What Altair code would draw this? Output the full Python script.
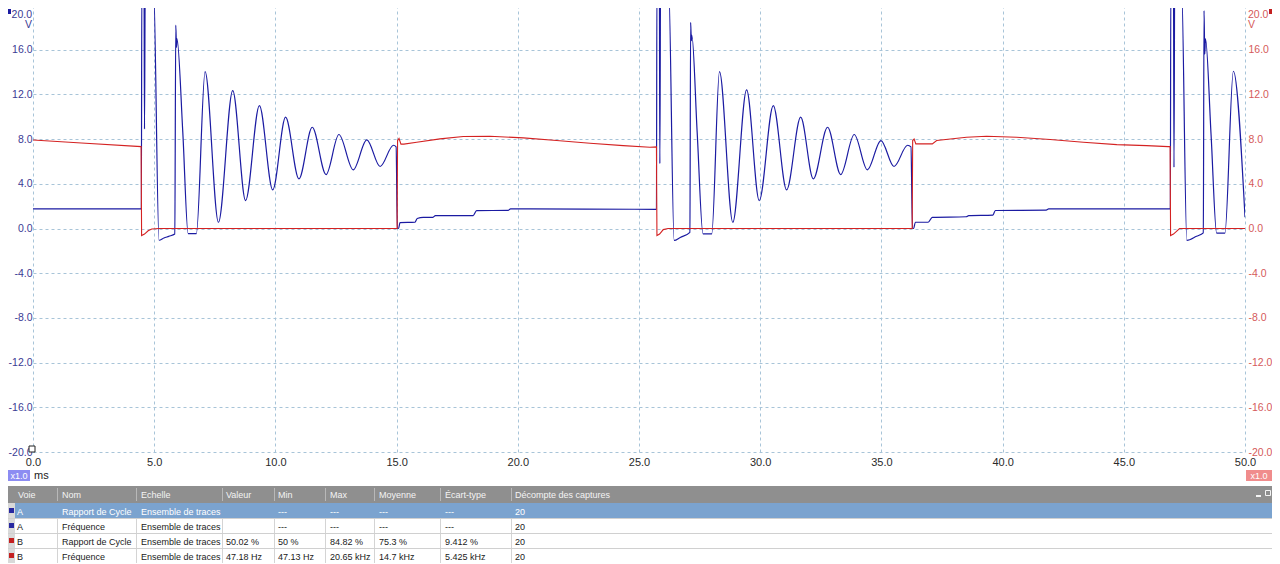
import altair as alt
import pandas as pd

# ---------------- data ----------------
# Channel A (blue), time in ms, voltage in V (values above 20 V are off-scale)
blue_t = [0.0, 4.47,
          4.49, 4.58, 4.60, 4.63, 4.97, 5.20, 5.40, 5.60, 5.85, 5.89, 5.92, 5.94, 6.18, 6.40, 6.74,
          7.10, 7.65, 8.24, 8.77, 9.34, 9.89, 10.42, 10.97, 11.52, 12.09, 12.62, 13.21, 13.77, 14.32, 14.87, 14.98,
          15.03, 15.08, 15.14, 15.76, 15.85, 16.10, 16.50, 16.60, 18.16, 18.30, 19.60, 19.70, 25.72,
          25.74, 25.84, 25.86, 25.89, 26.22, 26.45, 26.70, 27.10, 27.13, 27.16, 27.18, 27.40, 27.64, 28.00,
          28.32, 28.87, 29.44, 29.96, 30.54, 31.09, 31.67, 32.19, 32.78, 33.32, 33.88, 34.42, 34.98, 35.52, 36.08, 36.22,
          36.28, 36.33, 36.40, 36.93, 37.10, 38.50, 38.60, 39.60, 39.70, 41.80, 41.90, 46.92,
          46.94, 47.05, 47.07, 47.10, 47.38, 47.60, 48.00, 48.28, 48.31, 48.34, 48.37, 48.60, 48.83, 49.17, 49.52, 50.0]
blue_v = [1.76, 1.76,
          22.0, 22.0, 8.9, 22.0, 22.0, -1.05, -0.85, -0.70, -0.50, 18.2, 16.2, 17.0, 8.6, -0.45, -0.45,
          14.04, 0.56, 12.34, 2.50, 11.0, 3.46, 9.96, 4.44, 9.06, 4.83, 8.41, 5.25, 7.93, 5.55, 7.45, 7.30,
          0.0, 0.0, 0.52, 0.56, 0.90, 1.00, 1.00, 1.16, 1.16, 1.60, 1.62, 1.76, 1.72,
          22.0, 22.0, 5.8, 22.0, 22.0, -1.07, -0.80, -0.35, 18.45, 16.8, 17.3, 8.6, -0.48, -0.48,
          14.04, 0.56, 12.4, 2.50, 11.0, 3.46, 9.96, 4.44, 9.06, 4.83, 8.41, 5.25, 7.87, 5.55, 7.45, 7.30,
          0.0, 0.0, 0.56, 0.56, 1.00, 1.05, 1.16, 1.20, 1.61, 1.65, 1.76, 1.76,
          22.0, 22.0, 5.48, 22.0, 22.0, -1.07, -0.70, -0.39, 19.5, 15.6, 17.0, 8.4, -0.42, -0.42, 14.07, 1.01]

# Channel B (red)
red_t = [0.0, 2.0, 4.46, 4.48, 4.60, 4.75, 4.90, 5.20,
         15.02, 15.04, 15.10, 15.18, 15.30, 15.83, 16.79, 17.75, 18.85, 20.23,
         21.60, 22.98, 24.35, 25.45, 25.72, 25.74, 25.85, 26.00, 26.20,
         36.27, 36.29, 36.35, 36.42, 37.10, 37.28, 38.51, 39.34, 40.58,
         41.96, 43.33, 44.71, 45.94, 46.83, 46.91, 46.93, 47.05, 47.30, 50.0]
red_v = [7.92, 7.65, 7.33, -0.63, -0.50, -0.20, -0.05, 0.0,
         0.0, 7.87, 8.05, 7.55, 7.55, 7.72, 8.02, 8.23, 8.26, 8.11,
         7.87, 7.63, 7.42, 7.27, 7.30, -0.63, -0.50, -0.10, 0.0,
         0.0, 7.87, 8.00, 7.57, 7.57, 7.87, 8.17, 8.26, 8.17,
         7.96, 7.72, 7.51, 7.42, 7.33, 7.33, -0.63, -0.50, 0.0, 0.0]

x_ticks = [0, 5, 10, 15, 20, 25, 30, 35, 40, 45, 50]
y_ticks = [-20, -16, -12, -8, -4, 0, 4, 8, 12, 16, 20]

# measurement table
hdr = ["Voie", "Nom", "Echelle", "Valeur", "Min", "Max", "Moyenne", "Écart-type", "Décompte des captures"]
voie = ["A", "A", "B", "B"]
nom = ["Rapport de Cycle", "Fréquence", "Rapport de Cycle", "Fréquence"]
echelle = ["Ensemble de traces", "Ensemble de traces", "Ensemble de traces", "Ensemble de traces"]
valeur = ["", "", "50.02 %", "47.18 Hz"]
vmin = ["---", "---", "50 %", "47.13 Hz"]
vmax = ["---", "---", "84.82 %", "20.65 kHz"]
moyenne = ["---", "---", "75.3 %", "14.7 kHz"]
ecart = ["---", "---", "9.412 %", "5.425 kHz"]
decompte = ["20", "20", "20", "20"]

# ---------------- layout / style ----------------
PX0, PY0 = 33, 5          # page position of plot-area origin
W, H = 1212, 447
FONT = "Liberation Sans"
BLUE = "#1b1ba2"
RED = "#d42222"
BLUE_LBL = "#3a3a94"
RED_LBL = "#d55a5a"
GRID = "#a8c4d8"
AX_FS = 10.5

def vx(p):
    return p - PX0

def vy(p):
    return p - PY0

assert len(blue_t) == len(blue_v) and len(red_t) == len(red_v)

df_blue = pd.DataFrame({"t": blue_t, "v": blue_v})
df_red = pd.DataFrame({"t": red_t, "v": red_v})

x_enc = alt.X("t:Q", scale=alt.Scale(domain=[0, 50], nice=False, zero=False),
              axis=alt.Axis(values=x_ticks, format=".1f", grid=True, gridColor=GRID, gridDash=[3, 3],
                            domain=False, ticks=False, tickSize=0, labelPadding=4, labelFlush=False,
                            labelOverlap=False, labelColor="#2a2a2a", labelFont=FONT, labelFontSize=11,
                            title=None))

ylab = "datum.value == 20 ? '' : replace(format(datum.value, '.1f'), '\u2212', '-')"

blue = alt.Chart(df_blue).mark_line(color=BLUE, strokeWidth=1.2, clip=True, interpolate="monotone").encode(
    x=x_enc,
    y=alt.Y("v:Q", scale=alt.Scale(domain=[-20, 20], nice=False, zero=False),
            axis=alt.Axis(orient="left", values=y_ticks, labelExpr=ylab, grid=True, gridColor=GRID,
                          gridDash=[3, 3], domain=False, ticks=False, tickSize=0, labelPadding=1,
                          labelFlush=False, labelOverlap=False, labelColor=BLUE_LBL, labelFont=FONT,
                          labelFontSize=AX_FS, title=None)),
)

red = alt.Chart(df_red).mark_line(color=RED, strokeWidth=1.1, clip=True).encode(
    x=x_enc,
    y=alt.Y("v:Q", scale=alt.Scale(domain=[-20, 20], nice=False, zero=False),
            axis=alt.Axis(orient="right", values=y_ticks, labelExpr=ylab, grid=False, domain=False,
                          ticks=False, tickSize=0, labelPadding=3, labelFlush=False, labelOverlap=False,
                          labelColor=RED_LBL, labelFont=FONT, labelFontSize=AX_FS, title=None)),
)

# ---------- UI chrome: rectangles ----------
col_x = [17, 62, 141, 226, 278, 330, 379, 445, 515]
sep_x = [57, 136, 222, 274, 325, 374, 440, 511]
row_y = [511, 526, 541, 556]

rects = [
    (8, 30, 470, 481, "#8c8cf2"),      # left x1.0 badge
    (1246, 1272, 470, 481, "#f08c8c"),  # right x1.0 badge
    (8, 1272, 486, 503, "#8f8f8f"),     # header bar
    (15, 1272, 503, 518, "#7ba3cf"),    # selected row
    (8, 15, 503, 563, "#d9d9d9"),       # icon column
    (8, 11, 9, 14, BLUE),               # channel A marker
    (1269, 1272, 9, 14, "#c42020"),     # channel B marker
    (1256, 1261, 495, 497, "#f4f4f4"),  # minimise icon
]
for i, v in enumerate(voie):
    c = "#2828a0" if v == "A" else "#c42020"
    rects.append((9, 14, row_y[i] - 3, row_y[i] + 2, c))
df_rect = pd.DataFrame([{"x": vx(a), "x2": vx(b), "y": vy(c), "y2": vy(d), "c": e} for a, b, c, d, e in rects])
rect_layer = alt.Chart(df_rect).mark_rect().encode(
    x=alt.X("x:Q", scale=None), x2="x2:Q", y=alt.Y("y:Q", scale=None), y2="y2:Q",
    color=alt.Color("c:N", scale=None))

outlines = [(29, 35, 446, 452, "#222222", "white"), (1265.5, 1270.5, 490.5, 495.5, "#f4f4f4", "#8f8f8f")]
df_out = pd.DataFrame([{"x": vx(a), "x2": vx(b), "y": vy(c), "y2": vy(d), "s": e, "f": f}
                       for a, b, c, d, e, f in outlines])
out_layer = alt.Chart(df_out).mark_rect(strokeWidth=1).encode(
    x=alt.X("x:Q", scale=None), x2="x2:Q", y=alt.Y("y:Q", scale=None), y2="y2:Q",
    stroke=alt.Stroke("s:N", scale=None), fill=alt.Fill("f:N", scale=None))

# ---------- UI chrome: rules ----------
rules = []
for sx in sep_x:
    rules.append((sx + 0.5, sx + 0.5, 488, 501, "#b8b8b8"))
    rules.append((sx + 0.5, sx + 0.5, 518, 563, "#d4d4d4"))
for ry in [518, 533, 548, 563]:
    rules.append((8, 1272, ry + 0.5, ry + 0.5, "#d0d0d0"))
df_rule = pd.DataFrame([{"x": vx(a), "x2": vx(b), "y": vy(c), "y2": vy(d), "c": e} for a, b, c, d, e in rules])
rule_layer = alt.Chart(df_rule).mark_rule(strokeWidth=1).encode(
    x=alt.X("x:Q", scale=None), x2="x2:Q", y=alt.Y("y:Q", scale=None), y2="y2:Q",
    color=alt.Color("c:N", scale=None))

# ---------- texts ----------
left_txt = [
    ("20.0", 1248, 15, RED_LBL, AX_FS),
    ("V", 1248, 25, RED_LBL, AX_FS),
    ("ms", 34, 475.5, "#222222", 11),
]
for j, h in enumerate(hdr):
    left_txt.append((h, col_x[j] + (1 if j == 0 else 0), 494.5, "#f4f4f4", 9))
cols = [voie, nom, echelle, valeur, vmin, vmax, moyenne, ecart, decompte]
for i in range(4):
    tc = "#ffffff" if i == 0 else "#1a1a1a"
    for j, col in enumerate(cols):
        if col[i]:
            left_txt.append((col[i], col_x[j], row_y[i] + 0.5, tc, 9))

right_txt = [
    ("20.0", 32, 15, BLUE_LBL, AX_FS),
    ("V", 32, 25, BLUE_LBL, AX_FS),
]
center_txt = [
    ("x1.0", 19, 476, "#ffffff", 9),
    ("x1.0", 1259, 476, "#ffffff", 9),
]

def text_layer(items, align):
    df = pd.DataFrame([{"t": a, "x": vx(b), "y": vy(c), "c": d, "s": e} for a, b, c, d, e in items])
    return alt.Chart(df).mark_text(align=align, baseline="middle", font=FONT).encode(
        x=alt.X("x:Q", scale=None), y=alt.Y("y:Q", scale=None), text="t:N",
        color=alt.Color("c:N", scale=None), size=alt.Size("s:Q", scale=None))

chart = alt.layer(
    rect_layer, rule_layer, blue, red, out_layer,
    text_layer(left_txt, "left"), text_layer(right_txt, "right"), text_layer(center_txt, "center"),
).resolve_scale(y="independent").properties(
    width=W, height=H,
    padding={"left": 25, "top": -3, "right": 27, "bottom": 111},
    autosize=alt.AutoSizeParams(type="none"),
    background="white",
).configure_view(stroke=None)

chart.save("out.html", embed_options={"renderer": "svg", "actions": False})
